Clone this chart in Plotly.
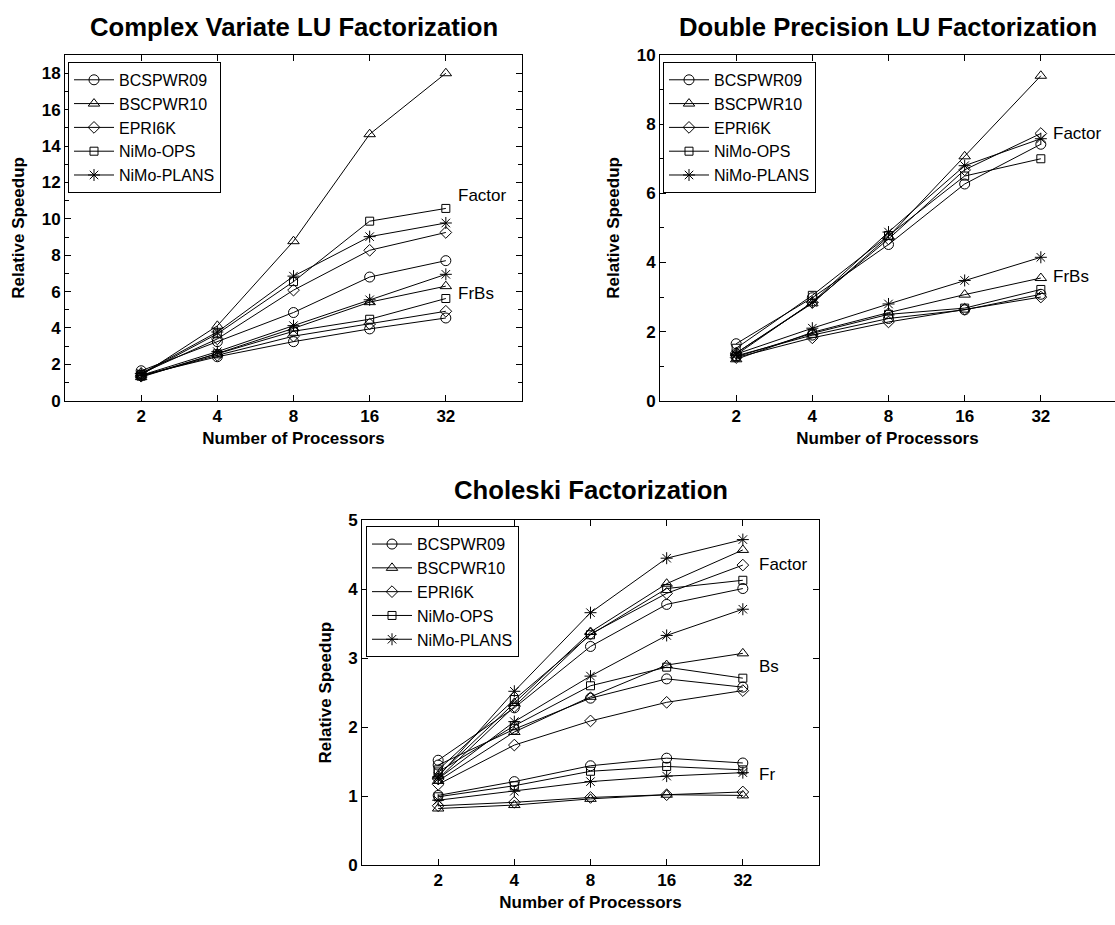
import numpy as np
import plotly.graph_objects as go

# ---------------- data ----------------
processors = [2, 4, 8, 16, 32]
tick_labels = ["2", "4", "8", "16", "32"]
datasets = ["BCSPWR09", "BSCPWR10", "EPRI6K", "NiMo-OPS", "NiMo-PLANS"]

# Complex Variate LU Factorization (order follows `datasets`)
complex_factor = [
    [1.65, 3.25, 4.85, 6.80, 7.70],
    [1.40, 4.12, 8.77, 14.65, 18.00],
    [1.50, 3.40, 6.08, 8.27, 9.25],
    [1.45, 3.68, 6.55, 9.87, 10.57],
    [1.50, 3.78, 6.85, 9.02, 9.77],
]
complex_frbs = [
    [1.40, 2.42, 3.25, 3.95, 4.55],
    [1.30, 2.60, 3.98, 5.42, 6.30],
    [1.35, 2.50, 3.55, 4.22, 4.92],
    [1.35, 2.58, 3.82, 4.48, 5.62],
    [1.40, 2.70, 4.13, 5.55, 6.95],
]

# Double Precision LU Factorization
double_factor = [
    [1.65, 2.98, 4.52, 6.27, 7.42],
    [1.38, 2.82, 4.75, 7.07, 9.40],
    [1.38, 2.84, 4.68, 6.68, 7.73],
    [1.52, 3.05, 4.78, 6.50, 7.00],
    [1.33, 2.85, 4.88, 6.80, 7.58],
]
double_frbs = [
    [1.30, 1.90, 2.38, 2.63, 3.08],
    [1.20, 1.98, 2.55, 3.07, 3.55],
    [1.25, 1.82, 2.28, 2.65, 3.00],
    [1.27, 1.95, 2.50, 2.68, 3.22],
    [1.35, 2.10, 2.80, 3.48, 4.15],
]

# Choleski Factorization
chol_factor = [
    [1.52, 2.28, 3.17, 3.78, 4.01],
    [1.30, 2.35, 3.38, 4.08, 4.57],
    [1.25, 2.30, 3.35, 3.94, 4.35],
    [1.38, 2.40, 3.34, 4.01, 4.13],
    [1.28, 2.52, 3.66, 4.45, 4.72],
]
chol_bs = [
    [1.45, 1.97, 2.42, 2.70, 2.58],
    [1.22, 1.93, 2.44, 2.90, 3.07],
    [1.17, 1.74, 2.09, 2.36, 2.53],
    [1.35, 2.02, 2.60, 2.87, 2.71],
    [1.25, 2.08, 2.74, 3.33, 3.71],
]
chol_fr = [
    [1.01, 1.21, 1.44, 1.55, 1.48],
    [0.82, 0.87, 0.96, 1.02, 1.01],
    [0.86, 0.91, 0.98, 1.02, 1.06],
    [0.99, 1.15, 1.36, 1.43, 1.38],
    [0.94, 1.07, 1.21, 1.29, 1.34],
]

# ---------------- styling ----------------
W, H = 1115, 925
FONT = "Liberation Sans"
symbols = ["circle-open", "triangle-up-open", "diamond-open", "square-open", "asterisk-open"]
msizes = [10, 10, 9, 8, 10]


def px_x(p):
    return p / W


def px_y(p):
    return 1 - p / H


fig = go.Figure()

panels = [
    ("x", "y", "legend", [complex_factor, complex_frbs]),
    ("x2", "y2", "legend2", [double_factor, double_frbs]),
    ("x3", "y3", "legend3", [chol_factor, chol_bs, chol_fr]),
]

for xa, ya, lg, groups in panels:
    for gi, group in enumerate(groups):
        for di, name in enumerate(datasets):
            fig.add_trace(go.Scatter(
                x=processors, y=group[di], xaxis=xa, yaxis=ya,
                mode="lines+markers", name=name,
                legend=lg, legendgroup=f"{xa}-{name}",
                showlegend=(gi == 0),
                line=dict(color="black", width=1),
                marker=dict(symbol=symbols[di], size=msizes[di],
                            color="black", line=dict(color="black", width=1)),
                cliponaxis=False,
            ))

tickfont = dict(family=FONT, size=17, color="black", weight="bold")
titlefont = dict(family=FONT, size=17, color="black", weight="bold")
LOG64 = np.log10(64)


def xaxis(domain, rng, anchor, mirror="ticks"):
    return dict(domain=domain, range=rng, type="log", anchor=anchor,
                tickvals=processors, ticktext=tick_labels,
                ticks="inside", ticklen=6, tickcolor="black",
                showline=True, linecolor="black", linewidth=1, mirror=mirror,
                showgrid=False, zeroline=False, tickfont=tickfont,
                title=dict(text="Number of Processors", font=titlefont, standoff=6))


def yaxis(domain, rng, anchor, dtick, minor, mirror="ticks"):
    d = dict(domain=domain, range=rng, anchor=anchor, dtick=dtick,
             ticks="inside", ticklen=6, tickcolor="black",
             showline=True, linecolor="black", linewidth=1, mirror=mirror,
             showgrid=False, zeroline=False, tickfont=tickfont,
             title=dict(text="Relative Speedup", font=titlefont, standoff=12))
    if minor:
        d["minor"] = dict(dtick=minor, ticks="inside", ticklen=4, tickcolor="black", showgrid=False)
    return d


ydom_top = [px_y(400), px_y(47)]
ydom_bot = [px_y(874), px_y(522)]
p2_range_hi = np.log10(2) * (1115 - 660) / (457 / 6)

fig.update_layout(
    width=W, height=H,
    margin=dict(l=0, r=0, t=0, b=0),
    paper_bgcolor="white", plot_bgcolor="white",
    font=dict(family=FONT, color="black"),
    xaxis=xaxis([px_x(65), px_x(522)], [0, LOG64], "y"),
    yaxis=yaxis(ydom_top, [0, 19], "x", 2, 1),
    xaxis2=xaxis([px_x(660), 1.0], [0, p2_range_hi], "y2"),
    yaxis2=yaxis(ydom_top, [0, 10], "x2", 2, 1, mirror=False),
    yaxis4=dict(overlaying="y2", side="right", anchor="x2", range=[0, 10], dtick=2,
                ticks="inside", ticklen=6, tickcolor="black", showline=False,
                showticklabels=False, showgrid=False, zeroline=False,
                minor=dict(dtick=1, ticks="inside", ticklen=4, tickcolor="black", showgrid=False)),
    xaxis3=xaxis([px_x(362), px_x(819)], [0, LOG64], "y3"),
    yaxis3=yaxis(ydom_bot, [0, 5], "x3", 1, None),
)

legend_style = dict(xanchor="left", yanchor="top", bordercolor="black", borderwidth=1,
                    bgcolor="white", font=dict(family=FONT, size=16, color="black"),
                    itemwidth=40, tracegroupgap=0)
fig.update_layout(
    legend=dict(x=px_x(68), y=px_y(54), **legend_style),
    legend2=dict(x=px_x(663), y=px_y(54), **legend_style),
    legend3=dict(x=px_x(366), y=px_y(528), **legend_style),
)

# subplot titles
titles = [
    ("Complex Variate LU Factorization", (65 + 522) / 2, 18),
    ("Double Precision LU Factorization", (660 + 1117) / 2, 18),
    ("Choleski Factorization", (362 + 819) / 2, 491),
]
for text, cx, cy in titles:
    fig.add_annotation(text=text, x=px_x(cx), y=px_y(cy), xref="paper", yref="paper",
                       xanchor="center", yanchor="middle", showarrow=False,
                       font=dict(family=FONT, size=25.7, color="black", weight="bold"))

# group labels
lx = np.log10(processors[-1])
group_labels = [
    ("Factor", "x", "y", 11.3, 10),
    ("FrBs", "x", "y", 5.9, 10),
    ("Factor", "x2", "y2", 7.73, 10),
    ("FrBs", "x2", "y2", 3.6, 10),
    ("Factor", "x3", "y3", 4.36, 14),
    ("Bs", "x3", "y3", 2.88, 14),
    ("Fr", "x3", "y3", 1.32, 14),
]
for text, xr, yr, yv, shift in group_labels:
    fig.add_annotation(text=text, x=lx, y=yv, xref=xr, yref=yr, xanchor="left",
                       yanchor="middle", xshift=shift, showarrow=False,
                       font=dict(family=FONT, size=17, color="black"))

fig.write_html(
    "out.html",
    config={"displayModeBar": False},
    post_script="document.body.style.margin='0px';document.body.style.overflow='hidden';",
)
